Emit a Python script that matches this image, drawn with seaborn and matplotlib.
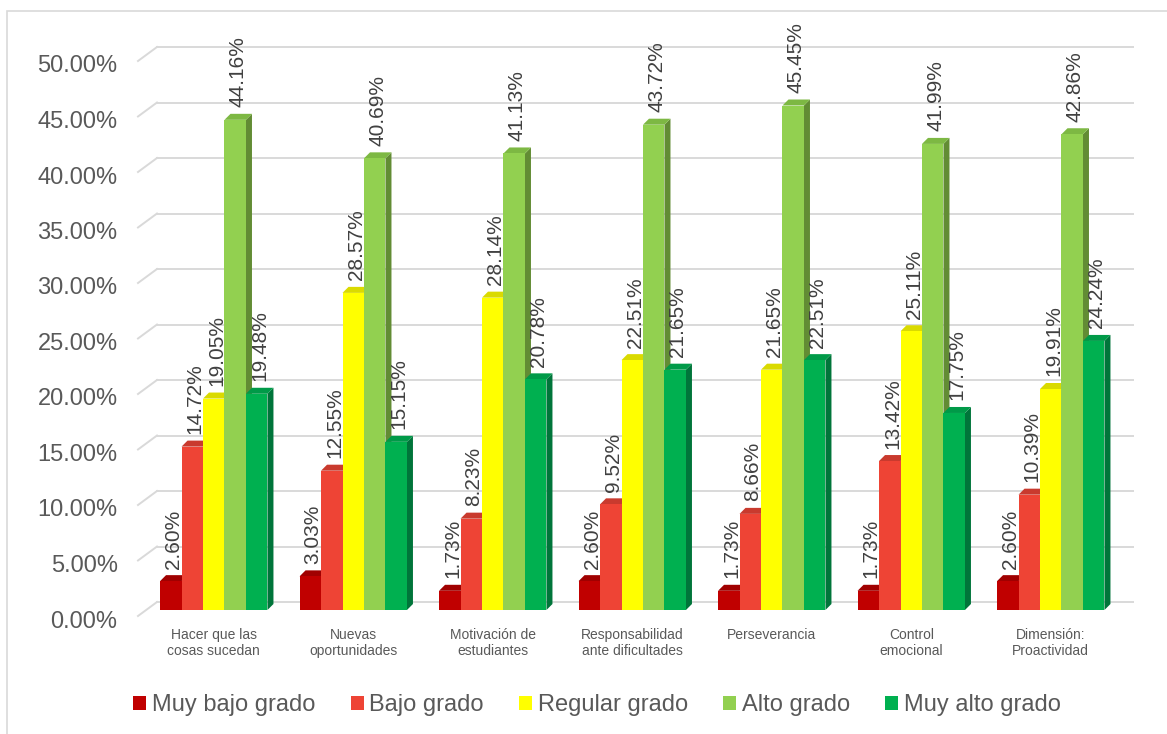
import matplotlib
matplotlib.use("Agg")
import matplotlib.pyplot as plt
import matplotlib.transforms as mtransforms
from matplotlib.patches import Polygon, Rectangle
import pandas as pd
import seaborn as sns

categorias = ["Hacer que las\ncosas sucedan", "Nuevas\noportunidades", "Motivación de\nestudiantes",
              "Responsabilidad\nante dificultades", "Perseverancia", "Control\nemocional",
              "Dimensión:\nProactividad"]
niveles = ["Muy bajo grado", "Bajo grado", "Regular grado", "Alto grado", "Muy alto grado"]
muy_bajo = [2.60, 3.03, 1.73, 2.60, 1.73, 1.73, 2.60]
bajo = [14.72, 12.55, 8.23, 9.52, 8.66, 13.42, 10.39]
regular = [19.05, 28.57, 28.14, 22.51, 21.65, 25.11, 19.91]
alto = [44.16, 40.69, 41.13, 43.72, 45.45, 41.99, 42.86]
muy_alto = [19.48, 15.15, 20.78, 21.65, 22.51, 17.75, 24.24]
yticks = [0, 5, 10, 15, 20, 25, 30, 35, 40, 45, 50]

colores = ["#C00000", "#EE4435", "#FFFF00", "#92D050", "#00B050"]
lados = ["#7E0000", "#A8302A", "#BDBD00", "#628C34", "#00753A"]
techos = ["#A00000", "#C93A2E", "#DADA00", "#7DB843", "#009A48"]

series = [muy_bajo, bajo, regular, alto, muy_alto]
rows = []
for nivel, vals in zip(niveles, series):
    for c, v in zip(categorias, vals):
        rows.append({"cat": c, "nivel": nivel, "valor": v})
df = pd.DataFrame(rows)

W, H = 1167, 734
fig = plt.figure(figsize=(W / 100, H / 100), dpi=100)
ax_l, ax_r, ax_b, ax_t = 144, 1120.5, 610, 55
ax = fig.add_axes([ax_l / W, 1 - ax_b / H, (ax_r - ax_l) / W, (ax_b - ax_t) / H])

sns.barplot(data=df, x="cat", y="valor", hue="nivel", palette=colores, width=0.77,
            saturation=1, ax=ax, legend=False, order=categorias, hue_order=niveles)
ax.set_xlim(-0.5, 6.5)
ax.set_ylim(0, 50)

# pixel -> data scales
sx = 7 / (ax_r - ax_l)
sy = 50 / (ax_b - ax_t)
dx, dy = 6 * sx, 6 * sy

# pseudo 3D faces
bars = sorted(ax.patches, key=lambda p: p.get_x())
for k, p in enumerate(bars):
    x0 = p.get_x()
    x1 = x0 + p.get_width()
    h = p.get_height()
    gi = k % 5
    z = 3 + k * 0.01
    side = Polygon([(x1, 0), (x1, h), (x1 + dx, h + dy), (x1 + dx, dy)], closed=True,
                   facecolor=lados[gi], edgecolor="none", zorder=z)
    top = Polygon([(x0, h), (x1, h), (x1 + dx, h + dy), (x0 + dx, h + dy)], closed=True,
                  facecolor=techos[gi], edgecolor="none", zorder=z)
    ax.add_patch(side)
    ax.add_patch(top)
    p.set_zorder(z + 0.005)
    p.set_edgecolor("none")
    ax.annotate(f"{h:.2f}%", (x0 + p.get_width() / 2, h), xytext=(2, 9), textcoords="offset points",
                rotation=90, ha="center", va="bottom", fontsize=15, color="#404040",
                family="Liberation Sans", zorder=10)

# back-wall gridlines
gx0 = -0.5 + 13 * sx
gx1 = -0.5 + 989 * sx
fx = -0.5 - 6 * sx
for t in yticks:
    ax.plot([gx0, gx1], [t + 8 * sy, t + 8 * sy], color="#D9D9D9", lw=1.4, zorder=1, clip_on=False)
    ax.plot([fx, gx0], [t - 6 * sy, t + 8 * sy], color="#D9D9D9", lw=1.4, zorder=1, clip_on=False)

for s in ax.spines.values():
    s.set_visible(False)
ax.set_xlabel("")
ax.set_ylabel("")
ax.set_yticks(yticks)
ax.set_yticklabels([f"{t:.2f}%" for t in yticks], fontsize=17, color="#595959", family="Liberation Sans")
ax.tick_params(axis="y", length=0, pad=19)
ax.tick_params(axis="x", length=0, pad=13)
ax.set_xticks(range(len(categorias)))
ax.set_xticklabels(categorias, fontsize=10, color="#595959", family="Liberation Sans", linespacing=1.15)
shift = mtransforms.ScaledTranslation(0, -0.09, fig.dpi_scale_trans)
for lab in ax.get_yticklabels():
    lab.set_transform(lab.get_transform() + shift)
ax.set_facecolor("none")

handles = [Rectangle((0, 0), 1, 1, facecolor=c, edgecolor="none") for c in colores]
fig.legend(handles, niveles, loc="center", bbox_to_anchor=(597 / W, 1 - 705 / H), ncol=5,
           frameon=False, prop={"family": "Liberation Sans", "size": 17}, labelcolor="#595959",
           handlelength=0.55, handleheight=0.55, handletextpad=0.25, columnspacing=1.48)

fig.patches.append(Rectangle((7 / W, -0.05), 1.2, 1 - 11 / H + 0.05, transform=fig.transFigure,
                             facecolor="none", edgecolor="#D9D9D9", lw=1.2))

fig.savefig("out.png", dpi=100, facecolor="white")
